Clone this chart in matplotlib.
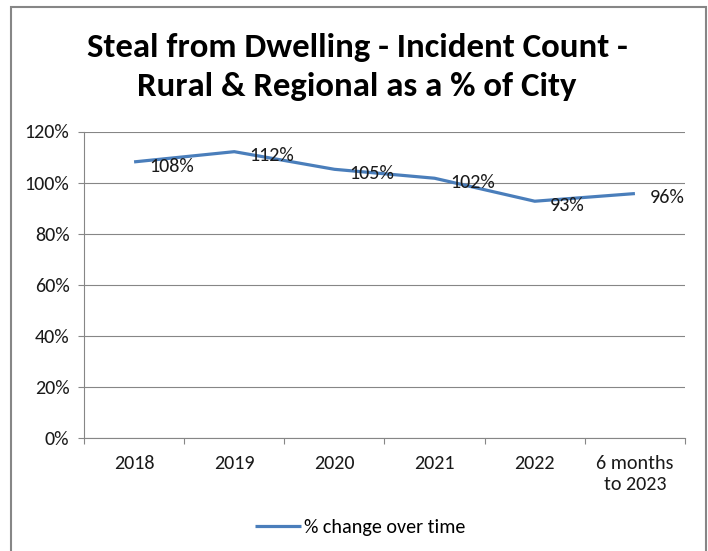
"""Steal from Dwelling - Rural & Regional incident count as a % of City."""

import matplotlib

matplotlib.use("Agg")
import matplotlib.pyplot as plt  # noqa: E402
from matplotlib.patches import Rectangle  # noqa: E402
from matplotlib.ticker import FixedLocator, FuncFormatter, NullFormatter  # noqa: E402

plt.rcParams["font.family"] = ["Carlito", "Lato", "DejaVu Sans"]

CATEGORIES = ["2018", "2019", "2020", "2021", "2022", "6 months\nto 2023"]
PCT = [108.1, 112.1, 105.2, 101.7, 92.7, 95.7]
LABELS = ["108%", "112%", "105%", "102%", "93%", "96%"]
YTICKS = [0, 20, 40, 60, 80, 100, 120]

TITLE = "Steal from Dwelling - Incident Count -\nRural & Regional as a % of City"
SERIES = "% change over time"
BLUE = "#4a7ebb"
GRID = "#868686"
FS = 14.5

W, H = 708, 551
fig = plt.figure(figsize=(W / 100, H / 100), dpi=100)
ax = fig.add_axes([84 / W, 1 - 438 / H, (685 - 84) / W, (438 - 131.5) / H])

x = list(range(len(CATEGORIES)))
ax.plot(x, PCT, color=BLUE, linewidth=2.3, solid_capstyle="butt",
        label=SERIES, zorder=3)
for xi, v, lab in zip(x, PCT, LABELS):
    ax.annotate(lab, (xi, v), xytext=(11, -3), textcoords="offset points",
                ha="left", va="center", fontsize=FS, color="#1a1a1a",
                zorder=4)

ax.set_xlim(-0.5, len(CATEGORIES) - 0.5)
ax.set_ylim(0, 120)
ax.yaxis.set_major_locator(FixedLocator(YTICKS))
ax.yaxis.set_major_formatter(FuncFormatter(lambda v, _p: f"{v:.0f}%"))
ax.set_xticks(x)
ax.set_xticklabels(CATEGORIES, fontsize=FS, color="#1a1a1a", linespacing=1.3)
ax.set_xticks([i - 0.5 for i in range(len(CATEGORIES) + 1)], minor=True)
ax.xaxis.set_minor_formatter(NullFormatter())
ax.tick_params(axis="x", which="major", length=0, pad=12)
ax.tick_params(axis="x", which="minor", length=4.5, width=0.8, color=GRID)
ax.tick_params(axis="y", length=4.5, width=0.8, color=GRID, pad=6,
               labelsize=FS, labelcolor="#1a1a1a")
ax.grid(True, axis="y", color=GRID, linewidth=0.8)
ax.set_axisbelow(True)
for side in ("top", "right"):
    ax.spines[side].set_visible(False)
for side in ("left", "bottom"):
    ax.spines[side].set_color(GRID)
    ax.spines[side].set_linewidth(0.8)

fig.text(357 / W, 1 - 67 / H, TITLE, ha="center", va="center",
         fontsize=25, fontweight="bold", linespacing=1.4)

fig.legend(loc="center", bbox_to_anchor=(360 / W, 1 - 527 / H), frameon=False,
           fontsize=FS, handlelength=2.3, handletextpad=0.15)

# chart-area border, running off the bottom of the picture
fig.patches.append(Rectangle((11 / W, -0.05), (706 - 11) / W, 1.05 - 7 / H,
                             transform=fig.transFigure, fill=False,
                             edgecolor="#868686", linewidth=1.5))

fig.savefig("out.png", dpi=100)
